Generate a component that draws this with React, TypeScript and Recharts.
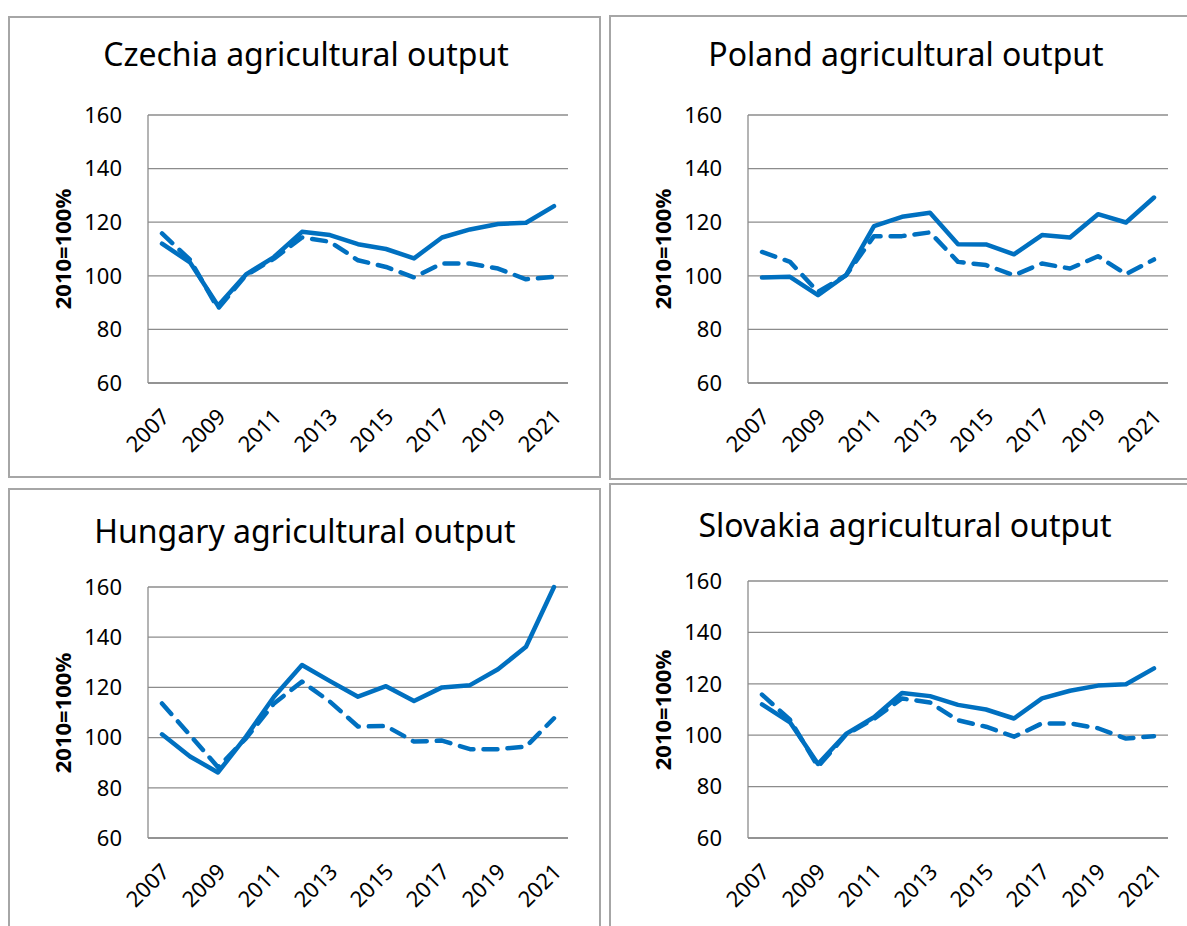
import { CartesianGrid, Line, LineChart, XAxis, YAxis } from "recharts";

const years = [
  "2007", "2008", "2009", "2010", "2011", "2012", "2013", "2014",
  "2015", "2016", "2017", "2018", "2019", "2020", "2021",
];
const yTicks = [60, 80, 100, 120, 140, 160];

// solid = output, dashed = volume (2010=100%)
const czechiaSolid = [112, 105, 88.8, 100.5, 107, 116.4, 115.2, 111.8, 110, 106.5, 114.3, 117.3, 119.3, 119.8, 126];
const czechiaDashed = [115.8, 106, 87.8, 100.2, 106.4, 114.3, 112.7, 105.8, 103.3, 99.4, 104.6, 104.6, 102.7, 98.7, 99.6];
const polandSolid = [99.4, 99.6, 92.8, 100.2, 118.5, 122, 123.5, 111.8, 111.7, 108, 115.2, 114.3, 123, 119.9, 129.2];
const polandDashed = [108.9, 105.2, 94, 100.2, 114.8, 114.8, 116.2, 105.2, 104, 100.2, 104.6, 102.7, 107.3, 100.6, 106.1];
const hungarySolid = [101.3, 92.5, 86.1, 100.4, 116.3, 128.9, 122.5, 116.3, 120.5, 114.6, 120, 120.9, 127.2, 136.2, 160];
const hungaryDashed = [113.6, 101, 88.2, 99.7, 113.6, 122.3, 114.3, 104.4, 104.6, 98.4, 98.8, 95.4, 95.4, 96.4, 107.7];
const slovakiaSolid = [112, 105, 88.8, 100.5, 107, 116.4, 115.2, 111.8, 110, 106.5, 114.3, 117.3, 119.3, 119.8, 126];
const slovakiaDashed = [115.8, 106, 87.8, 100.2, 106.4, 114.3, 112.7, 105.8, 103.3, 99.4, 104.6, 104.6, 102.7, 98.7, 99.6];

const font = "'Noto Sans', 'Open Sans', sans-serif";
const blue = "#0070C0";
const gray = "#8c8c8c";

const XTick = (props: any) => {
  const { x, y, payload } = props;
  return (
    <g transform={`translate(${x + 9},${y + 35})`}>
      <text textAnchor="end" transform="rotate(-45)" fontSize={22} fontFamily={font} fill="#000">
        {payload.value}
      </text>
    </g>
  );
};

type PanelProps = {
  title: string;
  solid: number[];
  dashed: number[];
  box: { left: number; top: number; width: number; height: number };
  plotLeft: number;
  plotTop: number;
  plotHeight: number;
  titleTop: number;
  titleX: number;
};

const Panel = ({ title, solid, dashed, box, plotLeft, plotTop, plotHeight, titleTop, titleX }: PanelProps) => {
  const data = years.map((year, i) => ({ year, solid: solid[i], dashed: dashed[i] }));
  return (
    <>
      <div
        style={{
          position: "absolute",
          left: box.left,
          top: box.top,
          width: box.width,
          height: box.height,
          border: "2px solid #a6a6a6",
          boxSizing: "border-box",
        }}
      />
      <div
        style={{
          position: "absolute",
          left: titleX - 300,
          top: titleTop,
          width: 600,
          lineHeight: "40px",
          textAlign: "center",
          fontFamily: font,
          fontSize: 32,
          color: "#000",
        }}
      >
        {title}
      </div>
      <div
        style={{
          position: "absolute",
          left: plotLeft - 86 - 100,
          top: plotTop + plotHeight / 2 - 15,
          width: 200,
          height: 30,
          lineHeight: "30px",
          textAlign: "center",
          fontFamily: font,
          fontSize: 22,
          fontWeight: "bold",
          transform: "rotate(-90deg)",
        }}
      >
        2010=100%
      </div>
      <div style={{ position: "absolute", left: plotLeft - 100, top: plotTop - 20 }}>
        <LineChart
          width={530}
          height={plotHeight + 100}
          data={data}
          margin={{ top: 20, right: 10, left: 0, bottom: 0 }}
        >
          <CartesianGrid vertical={false} stroke={gray} strokeWidth={1.3} />
          <XAxis
            dataKey="year"
            interval={1}
            height={80}
            padding={{ left: 14, right: 14 }}
            axisLine={{ stroke: gray, strokeWidth: 1.3 }}
            tickLine={false}
            tickSize={0}
            tickMargin={0}
            tick={<XTick />}
          />
          <YAxis
            width={100}
            domain={[60, 160]}
            ticks={yTicks}
            interval={0}
            axisLine={{ stroke: gray, strokeWidth: 1.3 }}
            tickLine={false}
            tickSize={0}
            tickMargin={26}
            tick={{ fontSize: 22, fontFamily: font, fill: "#000" }}
          />
          <Line
            type="linear"
            dataKey="solid"
            stroke={blue}
            strokeWidth={4.5}
            strokeLinecap="round"
            strokeLinejoin="round"
            dot={false}
            isAnimationActive={false}
          />
          <Line
            type="linear"
            dataKey="dashed"
            stroke={blue}
            strokeWidth={4.5}
            strokeDasharray="14 10"
            strokeLinecap="round"
            strokeLinejoin="round"
            dot={false}
            isAnimationActive={false}
          />
        </LineChart>
      </div>
    </>
  );
};

const App = () => {
  return (
    <div
      style={{
        position: "absolute",
        left: 0,
        top: 0,
        width: 1187,
        height: 926,
        overflow: "hidden",
        background: "#fff",
      }}
    >
      <Panel
        title="Czechia agricultural output"
        solid={czechiaSolid}
        dashed={czechiaDashed}
        box={{ left: 8, top: 16, width: 593, height: 462 }}
        plotLeft={148}
        plotTop={115}
        plotHeight={268}
        titleTop={34}
        titleX={306}
      />
      <Panel
        title="Poland agricultural output"
        solid={polandSolid}
        dashed={polandDashed}
        box={{ left: 609, top: 15, width: 600, height: 465 }}
        plotLeft={748}
        plotTop={115}
        plotHeight={268}
        titleTop={34}
        titleX={906}
      />
      <Panel
        title="Hungary agricultural output"
        solid={hungarySolid}
        dashed={hungaryDashed}
        box={{ left: 8, top: 488, width: 593, height: 460 }}
        plotLeft={148}
        plotTop={587}
        plotHeight={251}
        titleTop={511}
        titleX={305}
      />
      <Panel
        title="Slovakia agricultural output"
        solid={slovakiaSolid}
        dashed={slovakiaDashed}
        box={{ left: 609, top: 483, width: 600, height: 460 }}
        plotLeft={748}
        plotTop={581}
        plotHeight={257}
        titleTop={505}
        titleX={905}
      />
    </div>
  );
};

export default App;
